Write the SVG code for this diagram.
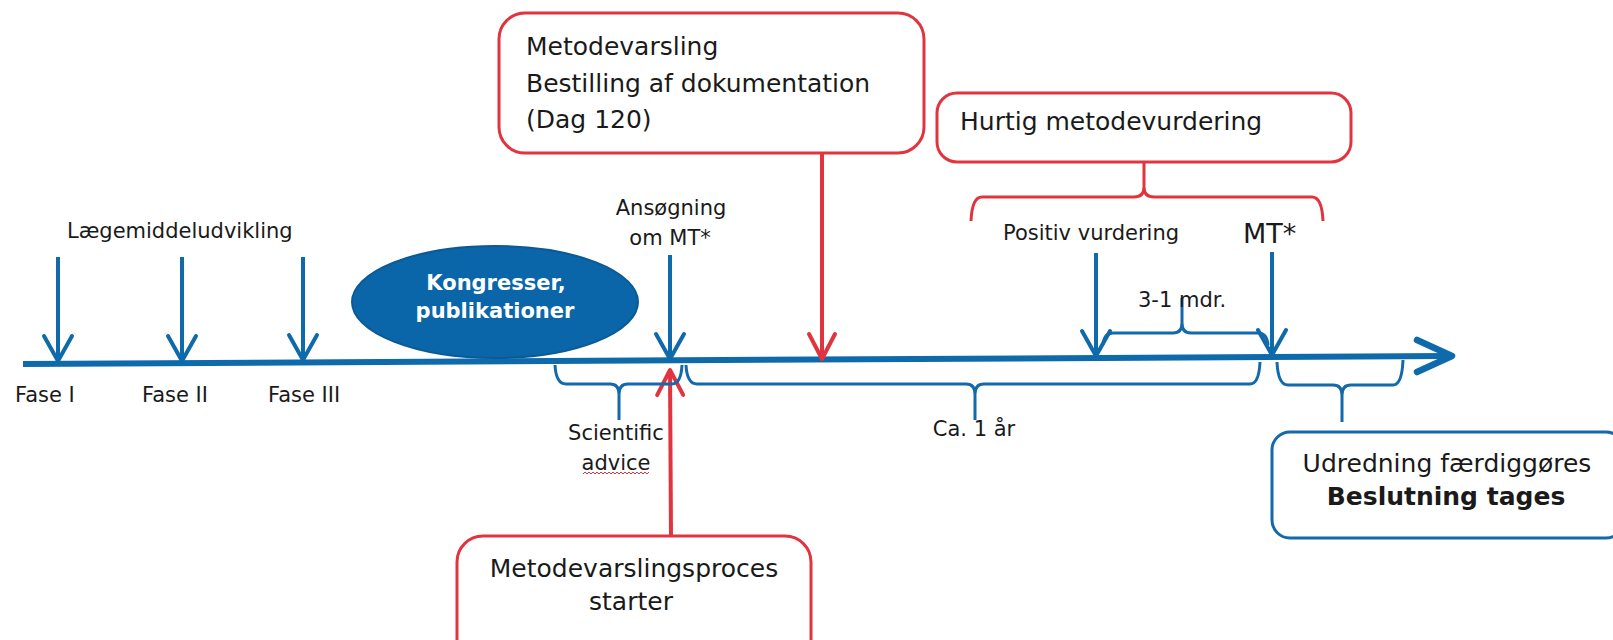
<svg xmlns="http://www.w3.org/2000/svg" width="1613" height="640" viewBox="0 0 1613 640">
  <style>
    .lbl { font-family: "DejaVu Sans", Verdana, sans-serif; font-size: 21px; fill: #1a1a1a; }
    .box-txt { font-family: "DejaVu Sans", Verdana, sans-serif; font-size: 25px; fill: #1a1a1a; }
    .bold { font-weight: bold; }
    .mid { text-anchor: middle; }
    .red-box { fill: #ffffff; stroke: #e2343f; stroke-width: 3; }
    .blue-box { fill: #ffffff; stroke: #1269ab; stroke-width: 3; }
    .axis { fill: none; stroke: #0f6aab; stroke-width: 6; stroke-linecap: butt; }
    .blue-arrow { fill: none; stroke: #0f6aab; stroke-width: 4; marker-end: url(#head-blue); }
    .red-arrow { fill: none; stroke: #e2343f; stroke-width: 4; marker-end: url(#head-red); }
    .brace-blue { fill: none; stroke: #1269ab; stroke-width: 3; stroke-linejoin: round; }
    .brace-red { fill: none; stroke: #e2343f; stroke-width: 3; stroke-linejoin: round; }
  </style>
  <defs>
    <marker id="head-blue" markerUnits="userSpaceOnUse" viewBox="-30 -18 34 36" refX="0" refY="0" markerWidth="34" markerHeight="36" orient="auto" overflow="visible">
      <path d="M-25,-14 L0,0 L-25,14" fill="none" stroke="#0f6aab" stroke-width="4" stroke-linecap="round" stroke-linejoin="round"/>
    </marker>
    <marker id="head-red" markerUnits="userSpaceOnUse" viewBox="-30 -18 34 36" refX="0" refY="0" markerWidth="34" markerHeight="36" orient="auto" overflow="visible">
      <path d="M-25,-13 L0,0 L-25,13" fill="none" stroke="#e2343f" stroke-width="4" stroke-linecap="round" stroke-linejoin="round"/>
    </marker>
  </defs>

  <rect x="0" y="0" width="1613" height="640" fill="#ffffff"/>

  <!-- connectors: timeline, arrows, braces -->
  <g id="connectors">
    <path class="axis" d="M23,364 L1448,356"/>
    <path d="M1417,340 L1452,356 L1417,372" fill="none" stroke="#0f6aab" stroke-width="6.5" stroke-linecap="round" stroke-linejoin="round"/>

    <!-- phase arrows -->
    <path class="blue-arrow" d="M58,257 L58,361"/>
    <path class="blue-arrow" d="M182,257 L182,361"/>
    <path class="blue-arrow" d="M303,257 L303,360"/>
    <path class="blue-arrow" d="M670,255 L670,359"/>
    <path class="blue-arrow" d="M1096,253 L1096,356"/>
    <path class="blue-arrow" d="M1272,252 L1272,355"/>

    <!-- red arrows -->
    <path class="red-arrow" d="M822,153 L822,359"/>
    <path class="red-arrow" d="M671,536 L670,370"/>

    <!-- braces under the timeline -->
    <path class="brace-blue" d="M555,365 Q556,384 566,384 H610 Q619,384 619,394 V420 M619,394 Q619,384 628,384 H672 Q681,384 682,365"/>
    <path class="brace-blue" d="M686,365 Q687,384 697,384 H966 Q975,384 975,394 V420 M975,394 Q975,384 984,384 H1250 Q1259,384 1260,362"/>
    <path class="brace-blue" d="M1277,362 Q1278,385 1288,385 H1333 Q1342,385 1342,395 V422 M1342,395 Q1342,385 1351,385 H1393 Q1402,385 1403,360"/>

    <!-- brace between the two approval arrows -->
    <path class="brace-blue" d="M1103,345 Q1104,333 1113,333 H1173 Q1182,333 1182,323 V298 M1182,323 Q1182,333 1191,333 H1258 Q1267,333 1268,345"/>

    <!-- red brace below the rapid assessment box -->
    <path class="brace-red" d="M971,221 Q972,197 982,197 H1134 Q1144,197 1144,187 V162 M1144,187 Q1144,197 1154,197 H1312 Q1322,197 1323,221"/>
  </g>

  <!-- nodes -->
  <g id="node-laegemiddeludvikling">
    <text class="lbl" x="67" y="238">Lægemiddeludvikling</text>
  </g>
  <g id="node-fase-1"><text class="lbl" x="15" y="402">Fase I</text></g>
  <g id="node-fase-2"><text class="lbl" x="142" y="402">Fase II</text></g>
  <g id="node-fase-3"><text class="lbl" x="268" y="402">Fase III</text></g>

  <g id="node-kongresser">
    <ellipse cx="495" cy="302" rx="143" ry="56" fill="#0a66a8" stroke="#0a5a95" stroke-width="2"/>
    <text class="lbl bold mid" x="496" y="290" fill="#ffffff" style="fill:#ffffff">Kongresser,</text>
    <text class="lbl bold mid" x="495" y="318" style="fill:#ffffff">publikationer</text>
  </g>

  <g id="node-ansoegning">
    <text class="lbl mid" x="671" y="215">Ansøgning</text>
    <text class="lbl mid" x="670" y="245">om MT*</text>
  </g>

  <g id="node-scientific">
    <text class="lbl mid" x="616" y="440">Scientific</text>
    <text class="lbl mid" x="616" y="470">advice</text>
    <path d="M583,474 l2,-2 l2,2 l2,-2 l2,2 l2,-2 l2,2 l2,-2 l2,2 l2,-2 l2,2 l2,-2 l2,2 l2,-2 l2,2 l2,-2 l2,2 l2,-2 l2,2 l2,-2 l2,2 l2,-2 l2,2 l2,-2 l2,2 l2,-2 l2,2 l2,-2 l2,2 l2,-2 l2,2 l2,-2 l2,2 l2,-2" fill="none" stroke="#e2343f" stroke-width="1"/>
  </g>

  <g id="node-ca-1-aar">
    <text class="lbl mid" x="974" y="436">Ca. 1 år</text>
  </g>

  <g id="node-metodevarsling">
    <rect class="red-box" x="499" y="13" width="425" height="140" rx="26" ry="26"/>
    <text class="box-txt" x="526" y="55">Metodevarsling</text>
    <text class="box-txt" x="526" y="92">Bestilling af dokumentation</text>
    <text class="box-txt" x="526" y="128">(Dag 120)</text>
  </g>

  <g id="node-hurtig">
    <rect class="red-box" x="937" y="93" width="414" height="69" rx="20" ry="20"/>
    <text class="box-txt" x="960" y="130">Hurtig metodevurdering</text>
  </g>

  <g id="node-positiv">
    <text class="lbl" x="1003" y="240">Positiv vurdering</text>
  </g>

  <g id="node-mt">
    <text class="lbl" x="1243" y="243" style="font-size:27px">MT*</text>
  </g>

  <g id="node-3-1-mdr">
    <text class="lbl" x="1138" y="307">3-1 mdr.</text>
  </g>

  <g id="node-metodevarslingsproces">
    <rect class="red-box" x="457" y="536" width="354" height="130" rx="26" ry="26"/>
    <text class="box-txt mid" x="634" y="577">Metodevarslingsproces</text>
    <text class="box-txt mid" x="631" y="610">starter</text>
  </g>

  <g id="node-udredning">
    <rect class="blue-box" x="1272" y="432" width="352" height="106" rx="18" ry="18"/>
    <text class="box-txt mid" x="1447" y="472">Udredning færdiggøres</text>
    <text class="box-txt bold mid" x="1446" y="505">Beslutning tages</text>
  </g>
</svg>
